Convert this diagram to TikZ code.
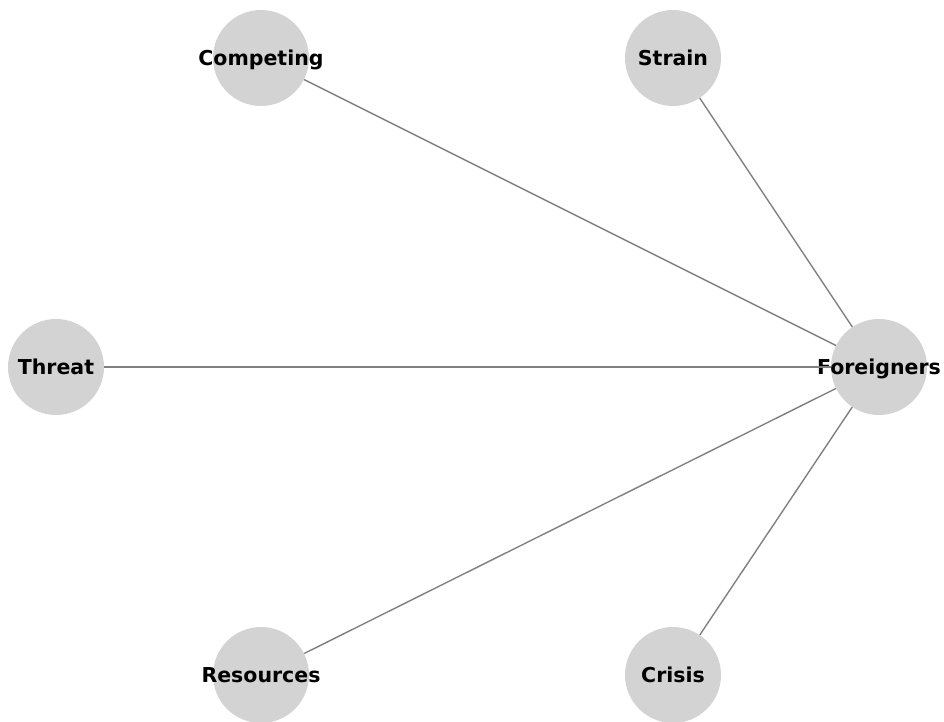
\documentclass[tikz,border=0pt]{standalone}
\usepackage{fontspec}
\setmainfont{DejaVu Sans}
\definecolor{nodegray}{RGB}{211,211,211}
\definecolor{edgegray}{RGB}{128,128,128}
\begin{document}
\begin{tikzpicture}[x=1pt,y=-1pt,
  vertex/.style={circle,fill=nodegray,draw=none,minimum size=96pt,inner sep=0pt,
    label={[font=\bfseries\fontsize{20.5}{24}\selectfont,text=black,
            inner sep=0pt,text height=15pt,text depth=0pt]center:#1}},
  link/.style={draw=edgegray,line width=1.4pt}]
\useasboundingbox (0,0) rectangle (944,722);
\node[vertex=Competing] (competing) at (261,58) {};
\node[vertex=Strain] (strain) at (673,58) {};
\node[vertex=Threat] (threat) at (56,367) {};
\node[vertex=Foreigners] (foreigners) at (879,367) {};
\node[vertex=Resources] (resources) at (261,675) {};
\node[vertex=Crisis] (crisis) at (673,675) {};
\draw[link] (competing) -- (foreigners);
\draw[link] (strain) -- (foreigners);
\draw[link] (threat) -- (foreigners);
\draw[link] (resources) -- (foreigners);
\draw[link] (crisis) -- (foreigners);
\end{tikzpicture}
\end{document}
